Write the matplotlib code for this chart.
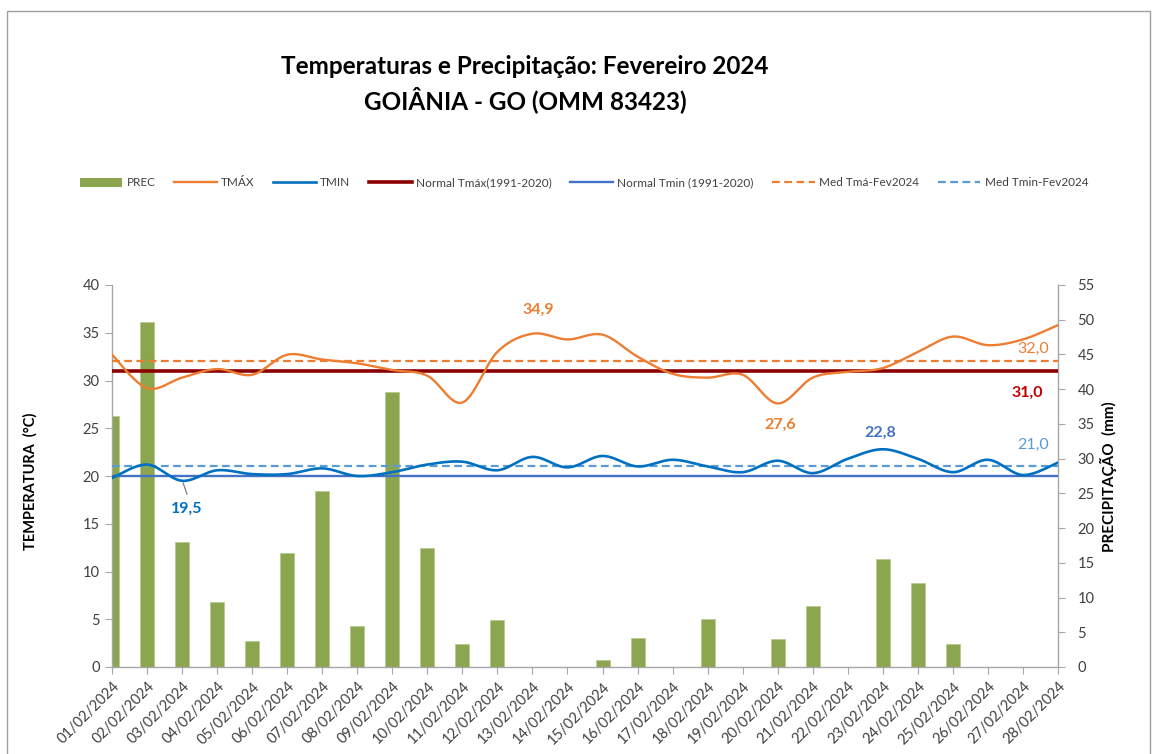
import numpy as np
import matplotlib
matplotlib.use("Agg")
import matplotlib.pyplot as plt
from matplotlib.patches import Rectangle, Patch
from matplotlib.lines import Line2D

plt.rcParams['font.family'] = ['Lato', 'DejaVu Sans']

# ---------------- data ----------------
dates = [f"{d:02d}/02/2024" for d in range(1, 29)]
prec = [36.2, 49.7, 18.0, 9.3, 3.8, 16.4, 25.3, 5.9, 39.6, 17.2, 3.3, 6.8, 0.0, 0.0,
        1.0, 4.2, 0.0, 6.9, 0.0, 4.0, 8.8, 0.0, 15.6, 12.1, 3.3, 0.0, 0.0, 0.0]
tmax = [32.7, 29.2, 30.3, 31.2, 30.6, 32.7, 32.2, 31.8, 31.1, 30.5, 27.7, 33.0, 34.9, 34.3,
        34.8, 32.5, 30.7, 30.3, 30.6, 27.6, 30.3, 30.9, 31.3, 33.0, 34.6, 33.7, 34.3, 35.8]
tmin = [19.8, 21.2, 19.5, 20.6, 20.2, 20.2, 20.8, 20.0, 20.4, 21.2, 21.5, 20.6, 22.0, 20.9,
        22.1, 21.0, 21.7, 21.0, 20.4, 21.6, 20.3, 21.8, 22.8, 21.8, 20.4, 21.7, 20.1, 21.4]
normal_tmax = 31.0
normal_tmin = 20.0
med_tmax = 32.0
med_tmin = 21.0
label_tmax_max = 34.9
label_tmax_min = 27.6
label_tmin_max = 22.8
label_tmin_min = 19.5

W, H = 1157, 754
fig = plt.figure(figsize=(W / 100, H / 100), dpi=100)

def fx(px):
    return px / W

def fy(py):
    return 1 - py / H

# chart border
fig.patches.append(Rectangle((fx(7), fy(760)), fx(1150) - fx(7), fy(11) - fy(760),
                             transform=fig.transFigure, fill=False, edgecolor='#A0A0A0', lw=1.0))

ax = fig.add_axes([fx(112), fy(667), fx(1058) - fx(112), fy(285) - fy(667)])
ax2 = ax.twinx()
ax.set_zorder(ax2.get_zorder() + 1)
ax.patch.set_visible(False)

x = np.arange(len(dates))
n = len(dates)

# bars (precipitation, right axis)
ax2.bar(x, prec, width=0.4, color='#8BA64E', edgecolor='#B5C98E', linewidth=0.5, zorder=2)
ax2.set_ylim(0, 55)
ax2.set_yticks(np.arange(0, 56, 5))

def smooth(xs, ys, steps=24):
    P = np.column_stack([xs, ys]).astype(float)
    Pe = np.vstack([P[0], P, P[-1]])
    out = []
    for i in range(1, len(Pe) - 2):
        p0, p1, p2, p3 = Pe[i - 1], Pe[i], Pe[i + 1], Pe[i + 2]
        c1 = p1 + (p2 - p0) / 6.0
        c2 = p2 - (p3 - p1) / 6.0
        t = np.linspace(0, 1, steps, endpoint=(i == len(Pe) - 3))[:, None]
        seg = ((1 - t) ** 3) * p1 + 3 * ((1 - t) ** 2) * t * c1 + 3 * (1 - t) * t ** 2 * c2 + t ** 3 * p2
        out.append(seg)
    out = np.vstack(out)
    return out[:, 0], out[:, 1]

# reference lines
ax.axhline(normal_tmax, color='#8B0000', lw=2.6, zorder=3)
ax.axhline(normal_tmin, color='#4472C4', lw=1.7, zorder=3)
ax.axhline(med_tmax, color='#ED7D31', lw=1.6, ls=(0, (3.5, 2)), zorder=3)
ax.axhline(med_tmin, color='#5B9BD5', lw=1.6, ls=(0, (3.5, 2)), zorder=3)

sx, sy = smooth(x, tmax)
ax.plot(sx, sy, color='#ED7D31', lw=1.7, zorder=4)
sx, sy = smooth(x, tmin)
ax.plot(sx, sy, color='#0070C0', lw=1.9, zorder=4)

ax.set_xlim(0, n - 1)
ax.set_ylim(0, 40)
ax.set_yticks(np.arange(0, 41, 5))
ax.set_xticks(x)
ax.set_xticklabels(dates, rotation=45, ha='right', va='top', rotation_mode='anchor')

axis_col = '#A6A6A6'
for a in (ax, ax2):
    for s in a.spines.values():
        s.set_visible(False)
ax.spines['left'].set_visible(True)
ax.spines['bottom'].set_visible(True)
ax2.spines['right'].set_visible(True)
for s in (ax.spines['left'], ax.spines['bottom'], ax2.spines['right']):
    s.set_color(axis_col)
    s.set_linewidth(1.0)

ax.tick_params(axis='y', length=5, color=axis_col, labelsize=10.5, labelcolor='#404040', pad=4)
ax.tick_params(axis='x', length=5, color=axis_col, labelsize=10.5, labelcolor='#404040', pad=4)
ax2.tick_params(axis='y', length=5, color=axis_col, labelsize=10.5, labelcolor='#404040', pad=9)

def fmt(v):
    return f"{v:.1f}".replace('.', ',')

# annotations
ax.text(12.16, 37.38, fmt(label_tmax_max), color='#ED7D31', fontsize=11.5,
        fontweight='bold', ha='center', va='center')
ax.text(19.06, 25.34, fmt(label_tmax_min), color='#ED7D31', fontsize=11.5,
        fontweight='bold', ha='center', va='center')
ax.text(21.92, 24.50, fmt(label_tmin_max), color='#4472C4', fontsize=11.5,
        fontweight='bold', ha='center', va='center')
ax.text(26.28, 33.30, fmt(med_tmax), color='#ED7D31', fontsize=11.5,
        ha='center', va='center')
ax.text(26.11, 28.69, fmt(normal_tmax), color='#C00000', fontsize=11.5,
        fontweight='bold', ha='center', va='center')
ax.text(26.28, 23.25, fmt(med_tmin), color='#5B9BD5', fontsize=11.5,
        ha='center', va='center')
ax.text(2.14, 16.55, fmt(label_tmin_min), color='#0070C0', fontsize=11.5,
        fontweight='bold', ha='center', va='center')
ax.plot([2.03, 2.14], [19.27, 18.1], color='#7F7F7F', lw=0.9, zorder=5)

# titles
fig.text(fx(525), fy(67), "Temperaturas e Precipitação: Fevereiro 2024", ha='center', va='center',
         fontsize=17.5, fontweight='bold', color='black')
fig.text(fx(525), fy(100), "GOIÂNIA - GO (OMM 83423)", ha='center', va='center',
         fontsize=17.5, fontweight='bold', color='black')

fig.text(fx(30), fy(481), "TEMPERATURA  (°C)", rotation=90, ha='center', va='center',
         fontsize=10.5, fontweight='bold', color='black')
fig.text(fx(1108), fy(477), "PRECIPITAÇÃO  (mm)", rotation=90, ha='center', va='center',
         fontsize=11, fontweight='bold', color='black')

# legend
handles = [
    Patch(facecolor='#8BA64E', edgecolor='none'),
    Line2D([], [], color='#ED7D31', lw=1.7),
    Line2D([], [], color='#0070C0', lw=1.9),
    Line2D([], [], color='#8B0000', lw=2.6),
    Line2D([], [], color='#4472C4', lw=1.7),
    Line2D([], [], color='#ED7D31', lw=1.6, ls=(0, (3.5, 2))),
    Line2D([], [], color='#5B9BD5', lw=1.6, ls=(0, (3.5, 2))),
]
labels = ["PREC", "TMÁX", "TMIN", "Normal Tmáx(1991-2020)", "Normal Tmin (1991-2020)",
          "Med Tmá-Fev2024", "Med Tmin-Fev2024"]
fig.legend(handles, labels, loc='center', bbox_to_anchor=(fx(584), fy(183)), ncol=7,
           frameon=False, fontsize=8.5, handlelength=3.6, handletextpad=0.35,
           columnspacing=1.6, labelcolor='#404040')

fig.savefig("out.png", dpi=100)
